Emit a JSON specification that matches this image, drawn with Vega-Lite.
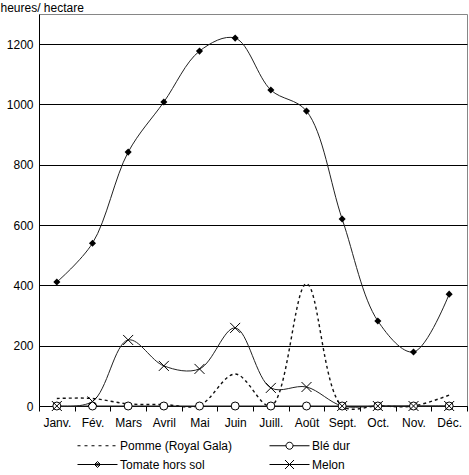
{
  "$schema": "https://vega.github.io/schema/vega-lite/v6.json",
  "autosize": {"type": "none"},
  "padding": {"left": 39, "top": 14, "right": 2, "bottom": 69},
  "width": 428,
  "height": 392,
  "data": {
    "values": [
      {"mois": "Janv.", "serie": "Pomme (Royal Gala)", "valeur": 25},
      {"mois": "Fév.", "serie": "Pomme (Royal Gala)", "valeur": 25},
      {"mois": "Mars", "serie": "Pomme (Royal Gala)", "valeur": 7},
      {"mois": "Avril", "serie": "Pomme (Royal Gala)", "valeur": 5},
      {"mois": "Mai", "serie": "Pomme (Royal Gala)", "valeur": 2},
      {"mois": "Juin", "serie": "Pomme (Royal Gala)", "valeur": 106},
      {"mois": "Juill.", "serie": "Pomme (Royal Gala)", "valeur": 0},
      {"mois": "Août", "serie": "Pomme (Royal Gala)", "valeur": 405},
      {"mois": "Sept.", "serie": "Pomme (Royal Gala)", "valeur": 0},
      {"mois": "Oct.", "serie": "Pomme (Royal Gala)", "valeur": 0},
      {"mois": "Nov.", "serie": "Pomme (Royal Gala)", "valeur": 0},
      {"mois": "Déc.", "serie": "Pomme (Royal Gala)", "valeur": 36},
      {"mois": "Janv.", "serie": "Blé dur", "valeur": 0},
      {"mois": "Fév.", "serie": "Blé dur", "valeur": 0},
      {"mois": "Mars", "serie": "Blé dur", "valeur": 0},
      {"mois": "Avril", "serie": "Blé dur", "valeur": 0},
      {"mois": "Mai", "serie": "Blé dur", "valeur": 0},
      {"mois": "Juin", "serie": "Blé dur", "valeur": 0},
      {"mois": "Juill.", "serie": "Blé dur", "valeur": 0},
      {"mois": "Août", "serie": "Blé dur", "valeur": 0},
      {"mois": "Sept.", "serie": "Blé dur", "valeur": 0},
      {"mois": "Oct.", "serie": "Blé dur", "valeur": 0},
      {"mois": "Nov.", "serie": "Blé dur", "valeur": 0},
      {"mois": "Déc.", "serie": "Blé dur", "valeur": 0},
      {"mois": "Janv.", "serie": "Tomate hors sol", "valeur": 411},
      {"mois": "Fév.", "serie": "Tomate hors sol", "valeur": 540},
      {"mois": "Mars", "serie": "Tomate hors sol", "valeur": 842},
      {"mois": "Avril", "serie": "Tomate hors sol", "valeur": 1008},
      {"mois": "Mai", "serie": "Tomate hors sol", "valeur": 1177},
      {"mois": "Juin", "serie": "Tomate hors sol", "valeur": 1220},
      {"mois": "Juill.", "serie": "Tomate hors sol", "valeur": 1048},
      {"mois": "Août", "serie": "Tomate hors sol", "valeur": 978},
      {"mois": "Sept.", "serie": "Tomate hors sol", "valeur": 620},
      {"mois": "Oct.", "serie": "Tomate hors sol", "valeur": 282},
      {"mois": "Nov.", "serie": "Tomate hors sol", "valeur": 179},
      {"mois": "Déc.", "serie": "Tomate hors sol", "valeur": 371},
      {"mois": "Janv.", "serie": "Melon", "valeur": 0},
      {"mois": "Fév.", "serie": "Melon", "valeur": 15},
      {"mois": "Mars", "serie": "Melon", "valeur": 219},
      {"mois": "Avril", "serie": "Melon", "valeur": 133},
      {"mois": "Mai", "serie": "Melon", "valeur": 123},
      {"mois": "Juin", "serie": "Melon", "valeur": 259},
      {"mois": "Juill.", "serie": "Melon", "valeur": 60},
      {"mois": "Août", "serie": "Melon", "valeur": 63},
      {"mois": "Sept.", "serie": "Melon", "valeur": 0},
      {"mois": "Oct.", "serie": "Melon", "valeur": 0},
      {"mois": "Nov.", "serie": "Melon", "valeur": 0},
      {"mois": "Déc.", "serie": "Melon", "valeur": 0}
    ]
  },
  "encoding": {
    "x": {
      "field": "mois",
      "type": "nominal",
      "sort": null,
      "scale": {"type": "band", "paddingInner": 0, "paddingOuter": 0},
      "axis": {
        "title": null,
        "labelAngle": 0,
        "tickBand": "extent",
        "tickSize": 5,
        "labelPadding": 6,
        "domainColor": "black",
        "tickColor": "black"
      }
    },
    "y": {
      "field": "valeur",
      "type": "quantitative",
      "scale": {"domain": [0, 1300], "nice": false},
      "axis": {
        "values": [0, 200, 400, 600, 800, 1000, 1200],
        "format": "d",
        "title": "heures/ hectare",
        "titleAngle": 0,
        "titleAlign": "left",
        "titleBaseline": "middle",
        "titleX": -39,
        "titleY": -7,
        "ticks": false,
        "labelPadding": 6,
        "grid": true,
        "gridColor": "black",
        "gridOpacity": 1,
        "domainColor": "black"
      }
    }
  },
  "layer": [
    {
      "transform": [{"filter": "datum.serie !== 'Pomme (Royal Gala)'"}],
      "mark": {"type": "line", "interpolate": "catmull-rom", "color": "#222", "strokeWidth": 1},
      "encoding": {"detail": {"field": "serie"}}
    },
    {
      "transform": [{"filter": "datum.serie === 'Pomme (Royal Gala)'"}],
      "mark": {"type": "line", "interpolate": "catmull-rom", "color": "#111", "strokeWidth": 1.4, "strokeDash": [3, 3]},
      "encoding": {}
    },
    {
      "transform": [{"filter": "datum.serie === 'Tomate hors sol'"}],
      "mark": {"type": "point", "shape": "diamond", "filled": true, "color": "black", "size": 50, "opacity": 1}
    },
    {
      "transform": [{"filter": "datum.serie === 'Blé dur'"}],
      "mark": {"type": "point", "shape": "circle", "filled": false, "fill": "white", "stroke": "black", "strokeWidth": 1, "size": 64, "opacity": 1}
    },
    {
      "transform": [{"filter": "datum.serie === 'Melon'"}],
      "mark": {"type": "point", "shape": "M-1,-1L1,1M-1,1L1,-1", "filled": false, "stroke": "black", "strokeWidth": 1, "size": 100, "opacity": 1}
    },
    {
      "transform": [{"filter": "datum.mois === 'Janv.'"}],
      "mark": {"type": "point", "filled": false, "color": "black", "opacity": 0},
      "encoding": {
        "shape": {
          "field": "serie",
          "scale": {
            "domain": ["Pomme (Royal Gala)", "Blé dur", "Tomate hors sol", "Melon"],
            "range": [
              "M-1,0H-0.7M-0.3,0H0M0.4,0H0.7M1.1,0H1.4M1.8,0H2.1M2.5,0H2.8",
              "M-1,0H0.65M1.35,0H3M0.65,0A0.35,0.35 0 1,0 1.35,0A0.35,0.35 0 1,0 0.65,0",
              "M-1,0H3M1,-0.3L1.3,0L1,0.3L0.7,0ZM1,-0.15L1.15,0L1,0.15L0.85,0Z",
              "M-1,0H3M0.55,-0.45L1.45,0.45M0.55,0.45L1.45,-0.45"
            ]
          },
          "legend": {
            "title": null,
            "orient": "none",
            "direction": "horizontal",
            "legendX": 38,
            "legendY": 421,
            "columns": 2,
            "columnPadding": 34,
            "rowPadding": 2,
            "symbolSize": 400,
            "symbolOpacity": 1,
            "symbolStrokeColor": "black",
            "symbolFillColor": "transparent",
            "symbolStrokeWidth": 1,
            "labelOffset": 22,
            "labelFontSize": 12,
            "labelColor": "black",
            "labelFont": "Liberation Sans"
          }
        }
      }
    }
  ],
  "config": {
    "font": "Liberation Sans",
    "view": {"stroke": "#868686"},
    "axis": {
      "labelFontSize": 12,
      "labelColor": "black",
      "titleFontSize": 12,
      "titleFontWeight": "normal",
      "titleColor": "black",
      "labelFont": "Liberation Sans",
      "titleFont": "Liberation Sans"
    }
  }
}
